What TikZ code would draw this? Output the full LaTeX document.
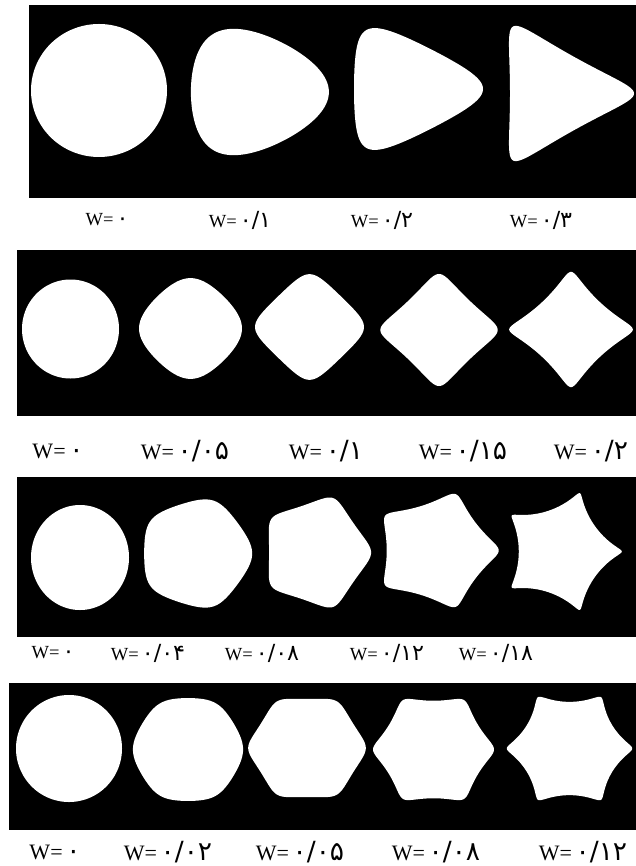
\documentclass[tikz,border=0pt]{standalone}
\usepackage{fontspec}
\setmainfont{Liberation Serif}
\newfontfamily\fadigits[Scale=1.2]{DejaVu Sans}
\usepackage{tikz}

\newcommand{\wval}[1]{W=\,{\fadigits #1}}

\begin{document}
\begin{tikzpicture}[
    x=1pt, y=-1pt,
    panel/.style={fill=black},
    blob/.style={fill=white},
    wlabel/.style={inner sep=0pt, font=\fontsize{18.5}{20}\selectfont},
    wlabelbig/.style={inner sep=0pt, font=\fontsize{22}{24}\selectfont}
]
    \useasboundingbox (0,0) rectangle (636,866);

    % Panels
    \fill [panel] (29,5) rectangle (636,198);
    \fill [panel] (17,250) rectangle (636,416);
    \fill [panel] (17,477) rectangle (636,637);
    \fill [panel] (9,683) rectangle (636,830);

    % n = 3
    \foreach \cx/\cy/\w/\rx/\ry in {99/90.5/0/68/66.5, 253/92/0.1/69/62, 405.6/89/0.2/64.5/57, 553.4/93.5/0.3/62/59.5}
        \fill [blob] plot [domain=0:360, samples=181, variable=\t]
            ({\cx+\rx*(cos(\t)+\w*cos(2*\t))}, {\cy+\ry*(sin(\t)-\w*sin(2*\t))}) -- cycle;

    % n = 4
    \foreach \cx/\cy/\w/\rx/\ry in {70.5/329/0/48.5/49.5, 190.5/328.5/0.05/49/48, 309.5/327/0.1/49.5/48, 439/330/0.15/51/48.7, 571/329.5/0.2/51.5/48}
        \fill [blob] plot [domain=0:360, samples=181, variable=\t]
            ({\cx+\rx*(cos(\t)+\w*cos(3*\t))}, {\cy+\ry*(sin(\t)-\w*sin(3*\t))}) -- cycle;

    % n = 5
    \foreach \cx/\cy/\w/\rx/\ry in {80/557.5/0/49/52.5, 196/553.5/0.04/54/53.5, 316/552.5/0.08/51/53, 436/550.5/0.12/56/53, 561/551.5/0.18/51.5/52}
        \fill [blob] plot [domain=0:360, samples=181, variable=\t]
            ({\cx+\rx*(cos(\t)+\w*cos(4*\t))}, {\cy+\ry*(sin(\t)-\w*sin(4*\t))}) -- cycle;

    % n = 6
    \foreach \cx/\cy/\w/\rx/\ry in {69/748.5/0/53/53.5, 188/749.5/0.02/54/52.5, 307/748/0.05/56/51.6, 433.5/749.5/0.08/56/53, 569.5/748.5/0.12/56/53}
        \fill [blob] plot [domain=0:360, samples=181, variable=\t]
            ({\cx+\rx*(cos(\t)+\w*cos(5*\t))}, {\cy+\ry*(sin(\t)-\w*sin(5*\t))}) -- cycle;

    % Labels
    \foreach \lx/\lv [count=\i] in {107/۰, 240/{۰/۱}, 382/{۰/۲}, 541/{۰/۳}}
        \node [wlabel] (rowa-\i) at (\lx,220) {\wval{\lv}};
    \foreach \lx/\lv [count=\i] in {58/۰, 185/{۰/۰۵}, 326/{۰/۱}, 463/{۰/۱۵}, 591/{۰/۲}}
        \node [wlabelbig] (rowb-\i) at (\lx,451) {\wval{\lv}};
    \foreach \lx/\lv [count=\i] in {53/۰, 148/{۰/۰۴}, 262/{۰/۰۸}, 387/{۰/۱۲}, 496/{۰/۱۸}}
        \node [wlabel] (rowc-\i) at (\lx,653) {\wval{\lv}};
    \foreach \lx/\lv [count=\i] in {55/۰, 168/{۰/۰۲}, 300/{۰/۰۵}, 436/{۰/۰۸}, 583/{۰/۱۲}}
        \node [wlabelbig] (rowd-\i) at (\lx,852) {\wval{\lv}};

\end{tikzpicture}
\end{document}
